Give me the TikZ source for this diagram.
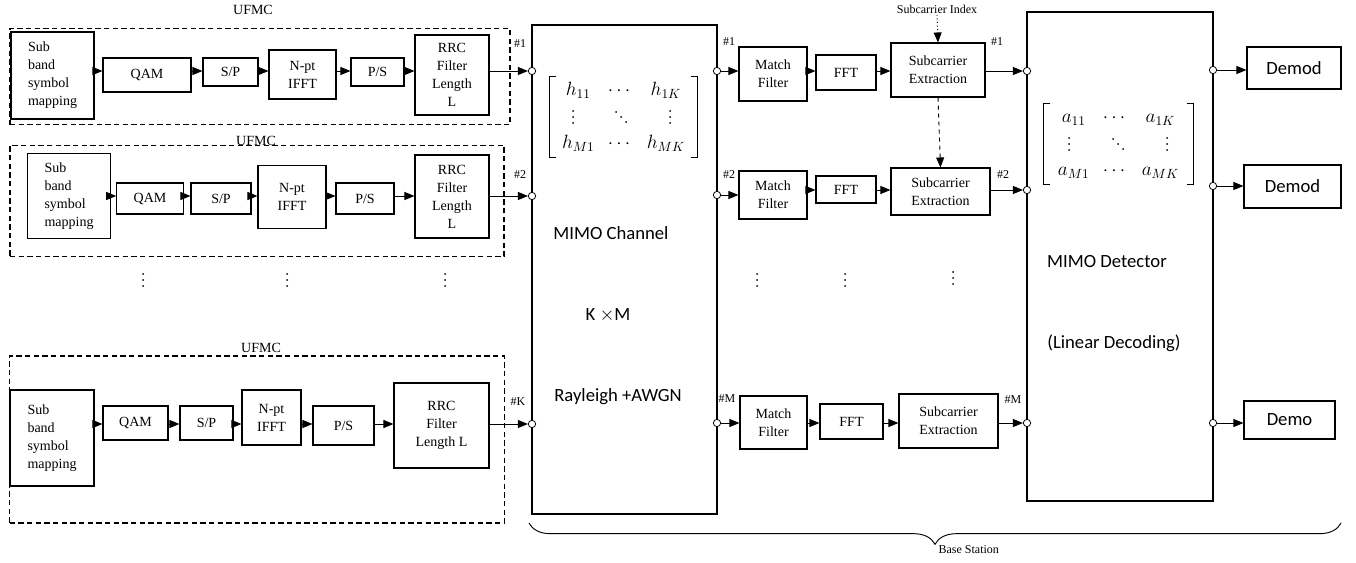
\documentclass[tikz,border=0pt]{standalone}
\usepackage{amsmath}
\usepackage{fontspec}
\setmainfont{Liberation Serif}
\newfontfamily\calfont{Carlito}
\usetikzlibrary{arrows.meta,decorations.pathreplacing}
% three small dots, upright or slanted
\newcommand\vdts[1]{\fill (#1) +(0,-6) circle (0.75pt) +(0,0) circle (0.75pt) +(0,6) circle (0.75pt);}
\newcommand\ddts[1]{\fill (#1) +(-5,-5) circle (0.75pt) +(0,0) circle (0.75pt) +(5,5) circle (0.75pt);}
\begin{document}
\begin{tikzpicture}[x=0.75pt,y=-0.75pt,
    every node/.style={align=center, inner sep=1pt},
    blk/.style={draw, line width=0.8pt, font=\fontsize{10.5}{13.5}\selectfont},
    sz/.style 2 args={minimum width={#1*0.75pt}, minimum height={#2*0.75pt}},
    ufmc/.style={draw, dash pattern=on 4pt off 2.5pt, line width=0.8pt},
    port/.style={draw, circle, fill=white, inner sep=0pt, minimum size=5.5pt, line width=0.6pt},
    arr/.style={-{Triangle[length=7.5pt,width=6pt]}, line width=0.7pt},
    tag/.style={font=\fontsize{9}{10}\selectfont},
    big/.style={font=\calfont\fontsize{14}{17}\selectfont},
    mat/.style={font=\fontsize{14}{16}\selectfont, inner sep=0pt},
    bracket/.style={line width=0.6pt}]
  \useasboundingbox (0,0) rectangle (1356,563);

  % transmitters
  \node[ufmc, sz={500}{96}] (grp1) at (260,76.6) {};
  \node[ufmc, sz={494}{111.5}] (grp2) at (257,201) {};
  \node[ufmc, sz={494.5}{167}] (grp3) at (257,439.5) {};
  \node[blk, draw=none] (ufmc1) at (253,10) {UFMC};
  \node[blk, draw=none] (ufmc2) at (256,141) {UFMC};
  \node[blk, draw=none] (ufmc3) at (261,348) {UFMC};

  \node[draw, line width=0.8pt, sz={185}{489}] (chan) at (624.5,269.5) {};
  \node[draw, line width=0.8pt, sz={186}{489}] (det) at (1120,256.5) {};

  \node[blk, sz={83}{87}, align=left] (map1) at (52.5,75.5) {Sub\\band\\symbol\\mapping};
  \node[blk, sz={88}{34}] (qam1) at (147,75) {QAM};
  \node[blk, sz={55}{28}] (sp1) at (230.5,72) {S/P};
  \node[blk, sz={67}{49}] (ifft1) at (302.5,74.5) {N-pt\\IFFT};
  \node[blk, sz={53}{28}] (ps1) at (377.5,72) {P/S};
  \node[blk, sz={74}{80}] (rrc1) at (452,75) {RRC\\Filter\\Length\\L};
  \node[port] (in1) at (532,71) {};

  \node[blk, sz={82.5}{85.5}, align=left] (map2) at (69,196) {Sub\\band\\symbol\\mapping};
  \node[blk, sz={66.5}{31}] (qam2) at (150,198.5) {QAM};
  \node[blk, sz={60}{31}] (sp2) at (221,198.5) {S/P};
  \node[blk, sz={68}{62.5}] (ifft2) at (292,197) {N-pt\\IFFT};
  \node[blk, sz={58}{31}] (ps2) at (365,198.5) {P/S};
  \node[blk, sz={74}{83}] (rrc2) at (452,196.5) {RRC\\Filter\\Length\\L};
  \node[port] (in2) at (532,196) {};

  \node[blk, sz={84}{96}, align=left] (map3) at (52,438) {Sub\\band\\symbol\\mapping};
  \node[blk, sz={65}{34}] (qam3) at (135.5,423) {QAM};
  \node[blk, sz={53}{34}] (sp3) at (206.5,423) {S/P};
  \node[blk, sz={59}{55}] (ifft3) at (271.5,417.5) {N-pt\\IFFT};
  \node[blk, sz={61}{39}] (ps3) at (343.5,425.5) {P/S};
  \node[blk, sz={95}{85}] (rrc3) at (441.5,425.5) {RRC\\Filter\\Length L};
  \node[port] (in3) at (532,424) {};

  \path[arr] (map1.east |- in1) edge (qam1.west |- in1) (qam1.east |- in1) edge (sp1.west |- in1)
    (sp1.east |- in1) edge (ifft1.west |- in1) (ifft1.east |- in1) edge (ps1.west |- in1)
    (ps1.east |- in1) edge (rrc1.west |- in1) (rrc1.east |- in1) edge (in1.west);
  \path[arr] (map2.east |- in2) edge (qam2.west |- in2) (qam2.east |- in2) edge (sp2.west |- in2)
    (sp2.east |- in2) edge (ifft2.west |- in2) (ifft2.east |- in2) edge (ps2.west |- in2)
    (ps2.east |- in2) edge (rrc2.west |- in2) (rrc2.east |- in2) edge (in2.west);
  \path[arr] (map3.east |- in3) edge (qam3.west |- in3) (qam3.east |- in3) edge (sp3.west |- in3)
    (sp3.east |- in3) edge (ifft3.west |- in3) (ifft3.east |- in3) edge (ps3.west |- in3)
    (ps3.east |- in3) edge (rrc3.west |- in3) (rrc3.east |- in3) edge (in3.west);

  \node[tag] (k1) at (520,44) {\#1};
  \node[tag] (k2) at (520,175) {\#2};
  \node[tag] (kK) at (518,402) {\#K};
  \vdts{143,280} \vdts{287,280} \vdts{445,280}

  % channel
  \node[mat, sz={147}{80}] (hmat) at (623.5,117)
    {$\renewcommand\arraystretch{1.25}\setlength\arraycolsep{5pt}
      \begin{array}{ccc} h_{11} & \cdots & h_{1K}\\ & & \\ h_{M1} & \cdots & h_{MK}\end{array}$};
  \draw[bracket] ([xshift=5pt]hmat.north west) -- (hmat.north west) -- (hmat.south west) -- ([xshift=5pt]hmat.south west);
  \draw[bracket] ([xshift=-5pt]hmat.north east) -- (hmat.north east) -- (hmat.south east) -- ([xshift=-5pt]hmat.south east);
  \vdts{573,117} \ddts{621,117} \vdts{670,117}
  \node[big] (chtxt) at (611,233) {MIMO Channel};
  \node[big] (kxm) at (608,315) {K $\times$M};
  \node[big] (ray) at (618,397) {Rayleigh +AWGN};
  \node[port] (cout1) at (717,71) {};
  \node[port] (cout2) at (717,195) {};
  \node[port] (cout3) at (717,423) {};

  % receivers
  \node[blk, sz={68}{54}] (mf1) at (773,74) {Match\\Filter};
  \node[blk, sz={60}{35}] (fft1) at (846,72.5) {FFT};
  \node[blk, sz={94}{54}] (se1) at (938,70) {Subcarrier\\Extraction};
  \node[blk, sz={68}{48}] (mf2) at (773,195) {Match\\Filter};
  \node[blk, sz={60}{27}] (fft2) at (846,189.5) {FFT};
  \node[blk, sz={99}{47}] (se2) at (940.5,191.5) {Subcarrier\\Extraction};
  \node[blk, sz={67}{53}] (mf3) at (773.5,422.5) {Match\\Filter};
  \node[blk, sz={63}{35}] (fft3) at (851.5,421.5) {FFT};
  \node[blk, sz={99}{54}] (se3) at (948.5,421) {Subcarrier\\Extraction};
  \node[tag] (idx) at (937,9) {Subcarrier Index};

  \node[port] (din1) at (1027,71) {};
  \node[port] (din2) at (1027,190) {};
  \node[port] (din3) at (1027,423) {};
  \node[mat, sz={149}{80}] (amat) at (1118.5,144)
    {$\renewcommand\arraystretch{1.25}\setlength\arraycolsep{5pt}
      \begin{array}{ccc} a_{11} & \cdots & a_{1K}\\ & & \\ a_{M1} & \cdots & a_{MK}\end{array}$};
  \draw[bracket] ([xshift=5pt]amat.north west) -- (amat.north west) -- (amat.south west) -- ([xshift=5pt]amat.south west);
  \draw[bracket] ([xshift=-5pt]amat.north east) -- (amat.north east) -- (amat.south east) -- ([xshift=-5pt]amat.south east);
  \vdts{1069,144} \ddts{1118,144} \vdts{1167,144}
  \node[big] (dettxt) at (1107,262) {MIMO Detector};
  \node[big] (lin) at (1114,343) {(Linear Decoding)};
  \node[port] (dout1) at (1213,70) {};
  \node[port] (dout2) at (1213,186) {};
  \node[port] (dout3) at (1213,423) {};
  \node[blk, big, sz={94}{42}] (dem1) at (1294,68) {Demod};
  \node[blk, big, sz={97}{43}] (dem2) at (1292.5,186.5) {Demod};
  \node[blk, big, sz={91}{38}] (dem3) at (1289.5,420) {Demo};

  \path[arr] (cout1.east) edge (mf1.west |- cout1) (mf1.east |- cout1) edge (fft1.west |- cout1)
    (fft1.east |- cout1) edge (se1.west |- cout1) (se1.east |- din1) edge (din1.west);
  \path[arr] (cout2.east) edge (mf2.west |- cout2) (mf2.east |- din2) edge (fft2.west |- din2)
    (fft2.east |- din2) edge (se2.west |- din2) (se2.east |- din2) edge (din2.west);
  \path[arr] (cout3.east) edge (mf3.west |- cout3) (mf3.east |- cout3) edge (fft3.west |- cout3)
    (fft3.east |- cout3) edge (se3.west |- cout3) (se3.east |- din3) edge (din3.west);
  \draw[arr] (dout1.east) -- (dem1.west |- dout1);
  \draw[arr] (dout2.east) -- (dem2.west |- dout2);
  \draw[arr] (dout3.east) -- (dem3.west |- dout3);
  \draw[arr, dotted] (idx.south) -- (se1.north);
  \draw[arr, dashed] (se1.south) -- (se2.north);

  \node[tag] (m1) at (729,42) {\#1};
  \node[tag] (m2) at (729,175) {\#2};
  \node[tag] (mM) at (727,399) {\#M};
  \node[tag] (n1) at (997,42) {\#1};
  \node[tag] (n2) at (1003,175) {\#2};
  \node[tag] (nM) at (1013,400) {\#M};
  \vdts{757,280} \vdts{845,280} \vdts{953,278}

  % base station
  \coordinate (bsl) at (529,523);
  \coordinate (bsr) at (1341,523);
  \draw[decorate, decoration={brace, mirror, amplitude=16pt}, line width=0.7pt] (bsl) -- (bsr);
  \node[tag, anchor=west] (bs) at (937,550) {Base Station};
\end{tikzpicture}
\end{document}
